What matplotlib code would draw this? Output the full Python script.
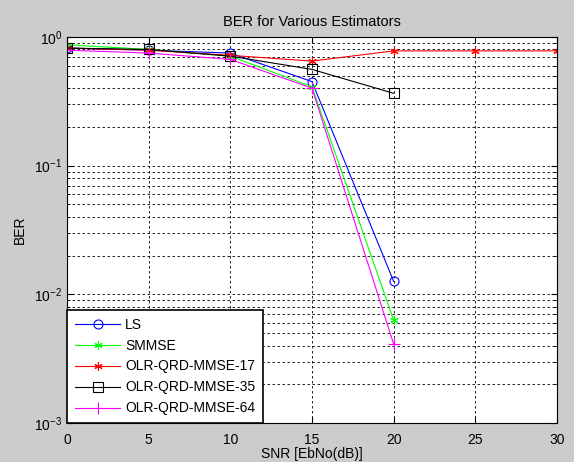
import matplotlib
matplotlib.use("Agg")
from matplotlib import pyplot as plt

plt.rcParams['font.family'] = ['Liberation Sans', 'DejaVu Sans']
plt.rcParams['mathtext.fontset'] = 'custom'
plt.rcParams['mathtext.rm'] = 'Liberation Sans'
plt.rcParams['mathtext.it'] = 'Liberation Sans'
plt.rcParams['font.size'] = 10

# SNR points and BER curves per estimator
snr = [0, 5, 10, 15, 20]
snr_17 = [0, 5, 10, 15, 20, 25, 30]
ber_ls = [0.82, 0.79, 0.75, 0.45, 0.0126]
ber_smmse = [0.87, 0.80, 0.71, 0.41, 0.0063]
ber_olr17 = [0.82, 0.79, 0.72, 0.65, 0.78, 0.78, 0.78]
ber_olr35 = [0.82, 0.80, 0.71, 0.56, 0.365]
ber_olr64 = [0.79, 0.75, 0.67, 0.40, 0.0041]

star = (6, 2, 0)

fig = plt.figure(figsize=(5.74, 4.62), dpi=100, facecolor='#cccccc')
ax = fig.add_axes([67/574, 39/462, 490/574, 386/462])

lw = 0.8
ax.semilogy(snr, ber_ls, color='#0000ff', lw=lw, marker='o', ms=6.5,
            mfc='none', mew=0.8, label='LS')
ax.semilogy(snr, ber_smmse, color='#00ff00', lw=lw, marker=star, ms=6,
            mew=0.8, label='SMMSE')
ax.semilogy(snr_17, ber_olr17, color='#ff0000', lw=lw, marker=star, ms=6,
            mew=0.8, label='OLR-QRD-MMSE-17')
ax.semilogy(snr, ber_olr35, color='black', lw=lw, marker='s', ms=6.5,
            mfc='none', mew=0.8, label='OLR-QRD-MMSE-35')
ax.semilogy(snr, ber_olr64, color='#ff00ff', lw=lw, marker='+', ms=8,
            mew=0.8, label='OLR-QRD-MMSE-64')

ax.set_xlim(0, 30)
ax.set_ylim(1e-3, 1e0)
ax.set_xticks(range(0, 31, 5))
ax.grid(True, which='both', color='black', linestyle=(0, (3, 3)), linewidth=0.6)
ax.tick_params(which='both', direction='in', top=True, right=True,
               labelsize=10, colors='black')
ax.tick_params(axis='x', pad=7)
ax.tick_params(which='major', length=4)
ax.tick_params(which='minor', length=2)
for s in ax.spines.values():
    s.set_linewidth(0.8)

ax.set_title('BER for Various Estimators', fontsize=10.5, pad=8)
ax.set_xlabel('SNR [EbNo(dB)]', fontsize=10, labelpad=0)
ax.set_ylabel('BER', fontsize=10, labelpad=5)

leg = ax.legend(loc='lower left', bbox_to_anchor=(0, 0), borderaxespad=0,
                fancybox=False, framealpha=1, edgecolor='black', fontsize=10,
                handlelength=3.3, handletextpad=0.35, borderpad=0.55,
                labelspacing=0.5)
leg.get_frame().set_linewidth(1.2)

fig.savefig('out.png', dpi=100, facecolor=fig.get_facecolor())
